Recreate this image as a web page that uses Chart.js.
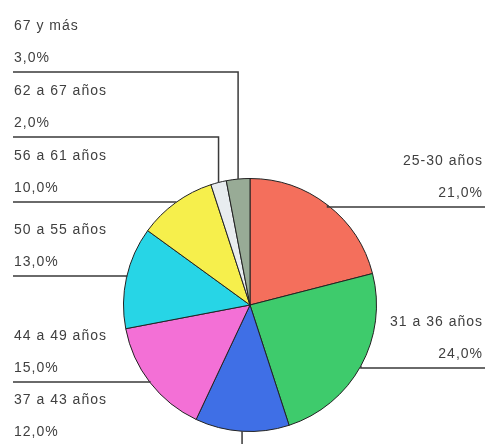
<!DOCTYPE html>
<html>
<head>
<meta charset="utf-8">
<script src="https://cdn.jsdelivr.net/npm/chart.js@4/dist/chart.umd.min.js"></script>
<style>
    html, body {margin: 0; padding: 0; background: #ffffff;}
    #wrap {width: 486px; height: 444px;}
</style>
</head>
<body>
<div id="wrap"><canvas id="chart_edades"></canvas></div>
<script>
const ageGroups = ['25-30 años', '31 a 36 años', '37 a 43 años', '44 a 49 años',
                   '50 a 55 años', '56 a 61 años', '62 a 67 años', '67 y más'];
const shares = [21, 24, 12, 15, 13, 10, 2, 3];
const sliceColors = ['#f46f5c', '#3ecb6c', '#3f6fe6', '#f370d6', '#27d5e6', '#f6ef4c', '#e8ecef', '#98ab96'];

// where each label sits: side of the chart and the y of its leader line
const labelSpots = [
    {side: 'right', lineY: 207},
    {side: 'right', lineY: 368},
    {side: 'left', lineY: 446},
    {side: 'left', lineY: 382},
    {side: 'left', lineY: 276},
    {side: 'left', lineY: 202},
    {side: 'left', lineY: 137},
    {side: 'left', lineY: 72},
];

const leaderLabels = {
    id: 'leaderLabels',
    afterDatasetsDraw(chart) {
        const ctx = chart.ctx;
        const meta = chart.getDatasetMeta(0);
        const values = chart.data.datasets[0].data;
        ctx.save();
        ctx.strokeStyle = '#3a3a3a';
        ctx.lineWidth = 1.5;
        ctx.fillStyle = '#404040';
        ctx.font = '14px "Liberation Sans", Arial, sans-serif';
        ctx.letterSpacing = '1px';
        ctx.textBaseline = 'middle';
        meta.data.forEach((arc, i) => {
            const spot = labelSpots[i];
            const mid = (arc.startAngle + arc.endAngle) / 2;
            const ax = arc.x + Math.cos(mid) * arc.outerRadius;
            const ay = arc.y + Math.sin(mid) * arc.outerRadius;
            const pct = values[i].toFixed(1).replace('.', ',') + '%';

            ctx.beginPath();
            if (spot.side === 'left') {
                ctx.moveTo(13, spot.lineY);
                ctx.lineTo(ax, spot.lineY);
                ctx.lineTo(ax, ay);
                ctx.stroke();
                ctx.textAlign = 'left';
                ctx.fillText(chart.data.labels[i], 14, spot.lineY - 46);
                ctx.fillText(pct, 14, spot.lineY - 14);
            } else {
                ctx.moveTo(ax, ay);
                ctx.lineTo(ax, spot.lineY);
                ctx.lineTo(485, spot.lineY);
                ctx.stroke();
                ctx.textAlign = 'right';
                ctx.fillText(chart.data.labels[i], 483, spot.lineY - 46);
                ctx.fillText(pct, 483, spot.lineY - 14);
            }
        });
        ctx.restore();
    },
};

new Chart(document.getElementById('chart_edades'), {
    type   : 'pie',
    data   : {
        labels  : ageGroups,
        datasets: [{
            data           : shares,
            backgroundColor: sliceColors,
            borderColor    : '#222222',
            borderWidth    : 1,
        }],
    },
    options: {
        responsive         : true,
        maintainAspectRatio: false,
        animation          : false,
        layout             : {
            padding: {left: 123, right: 109, top: 178, bottom: 12},
        },
        plugins            : {
            legend : {display: false},
            tooltip: {enabled: false},
        },
    },
    plugins: [leaderLabels],
});
</script>
</body>
</html>
